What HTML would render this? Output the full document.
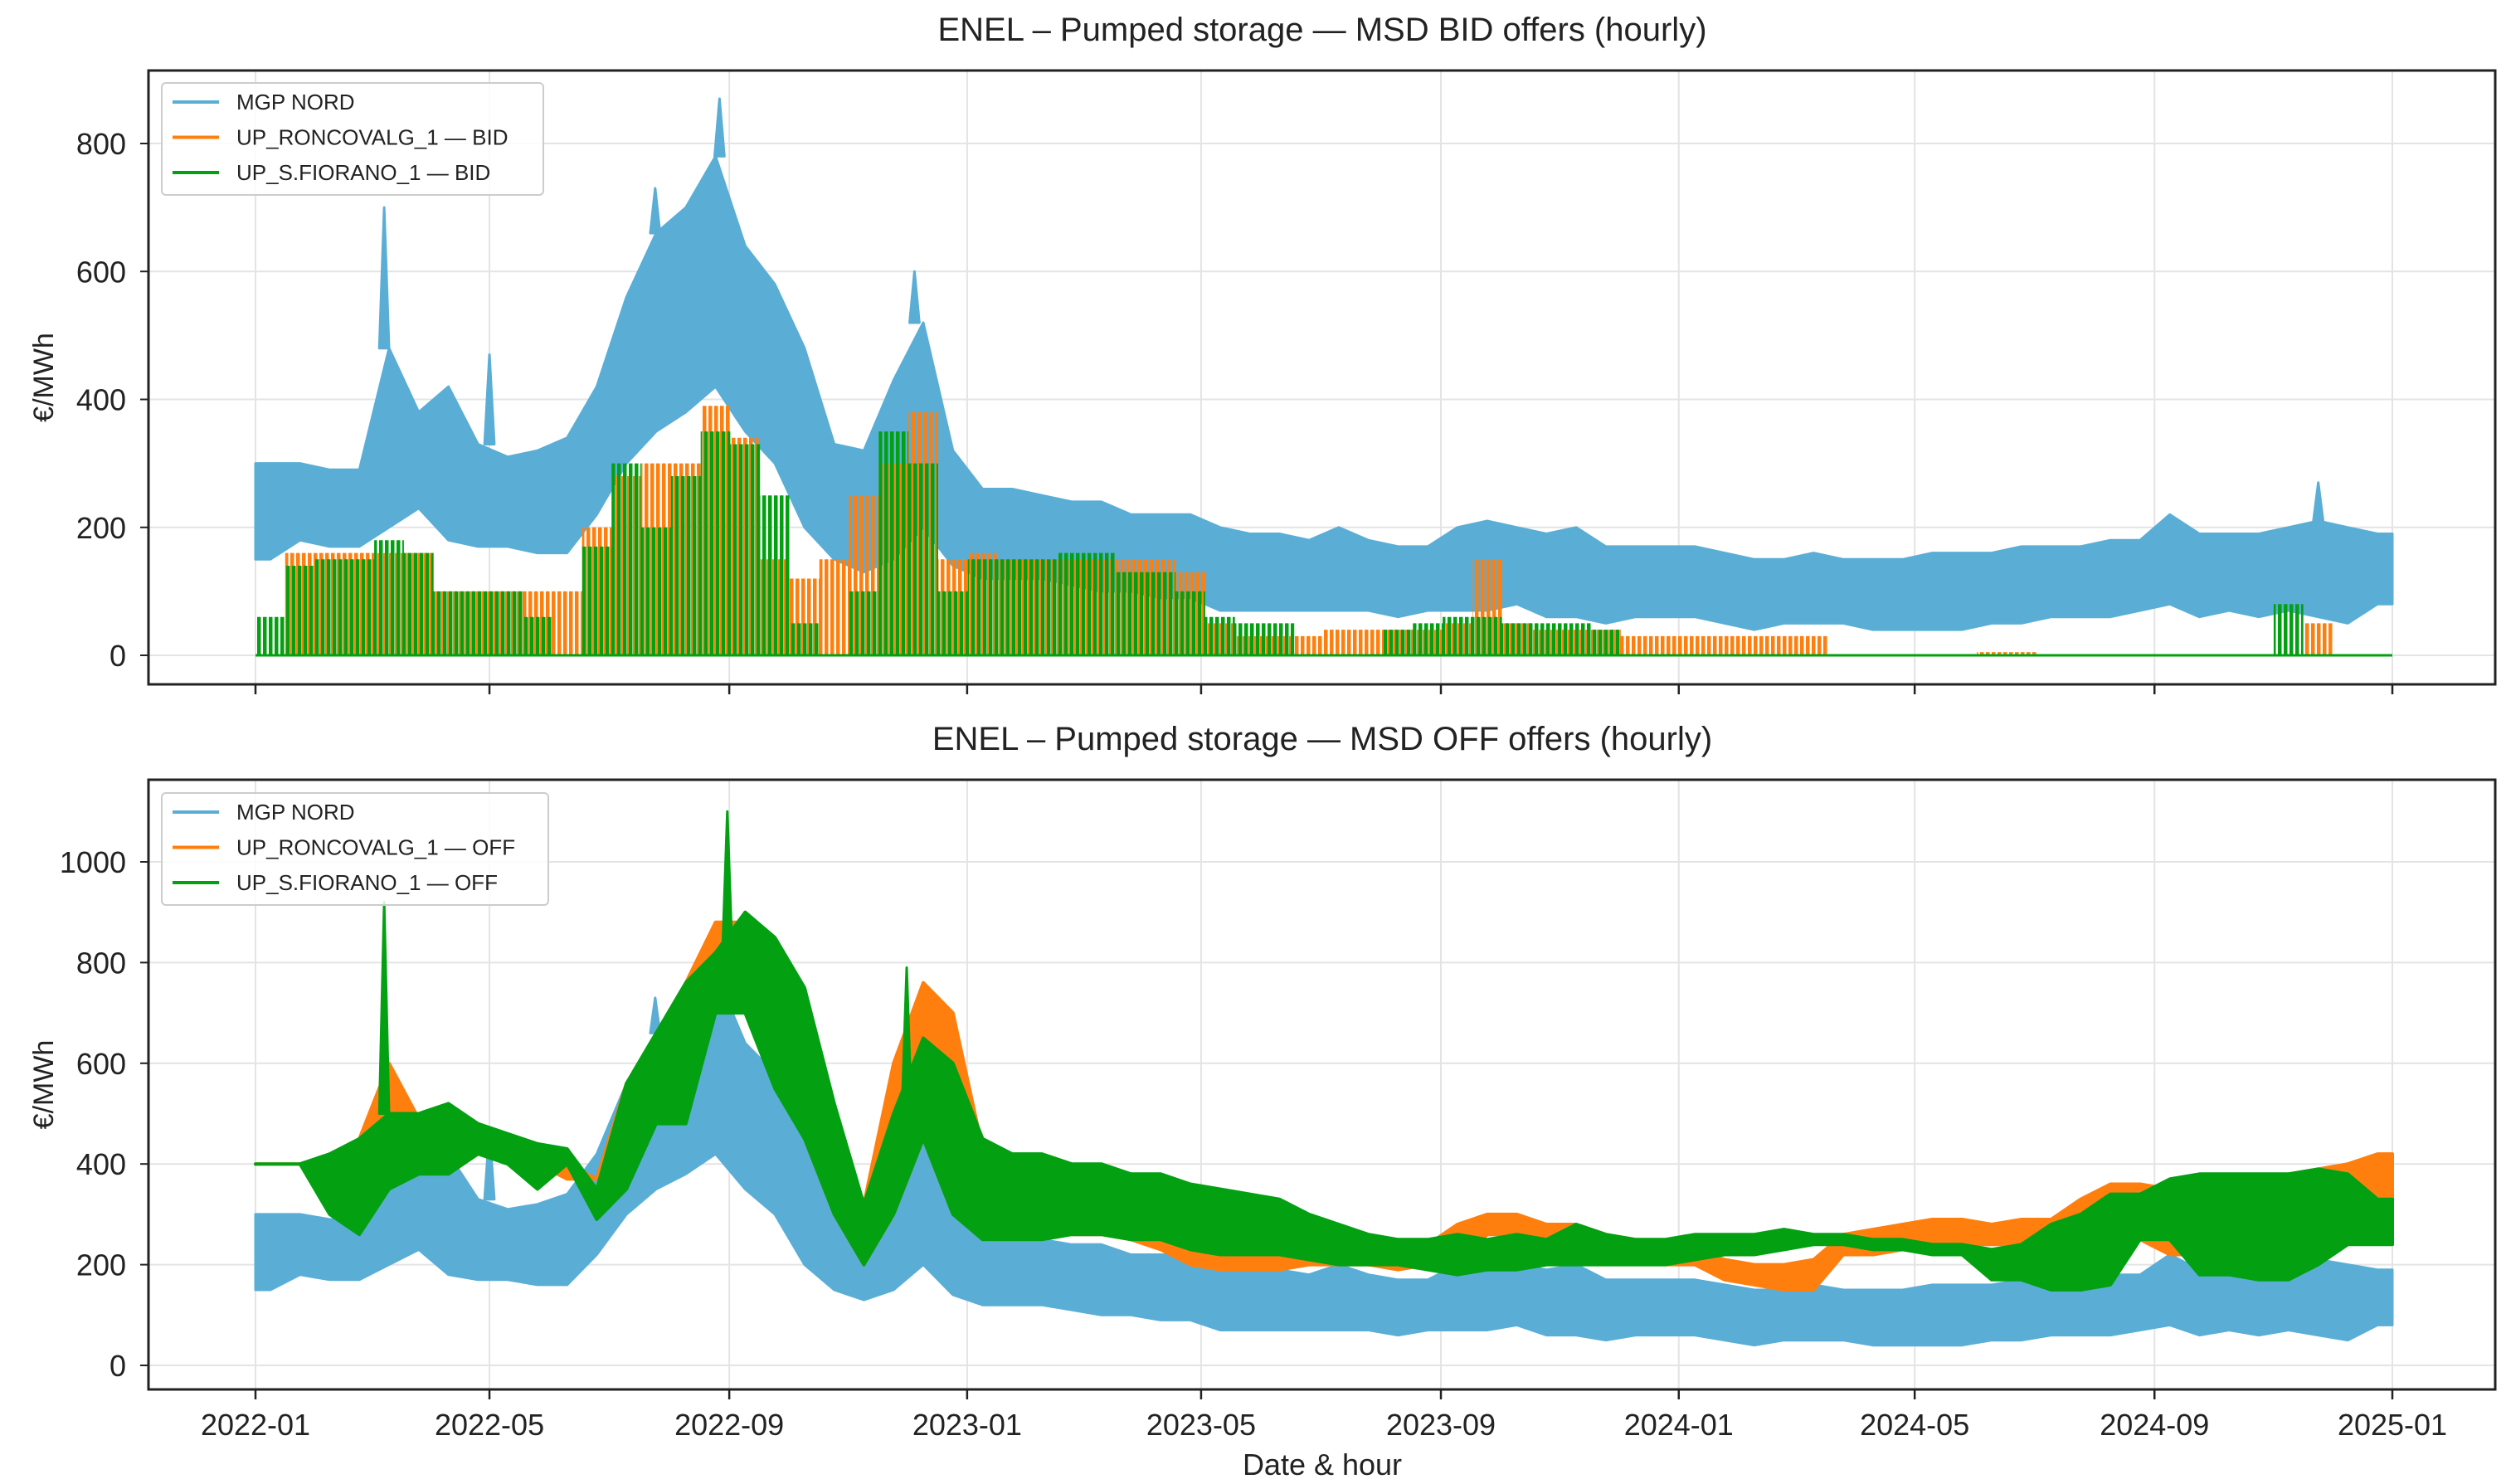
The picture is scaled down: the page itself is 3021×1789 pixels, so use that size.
<!DOCTYPE html>
<html><head><meta charset="utf-8"><style>
html,body{margin:0;padding:0;background:#fff;}
svg{display:block;font-family:"Liberation Sans","DejaVu Sans",sans-serif;}
</style></head><body>
<svg id="fig" width="3021" height="1789" viewBox="0 0 3021 1789" xmlns="http://www.w3.org/2000/svg">
<defs>
<pattern id="stripeO" width="7" height="10" patternUnits="userSpaceOnUse"><rect x="0" y="0" width="4.5" height="10" fill="#ff7f0e"/></pattern>
<pattern id="stripeG" width="7" height="10" patternUnits="userSpaceOnUse"><rect x="2" y="0" width="4.5" height="10" fill="#03a012"/></pattern>
</defs>
</svg>
<script>
// ---- data (half-month intervals, 2022-01 .. 2024-12) ----
const tickLabels = ["2022-01","2022-05","2022-09","2023-01","2023-05","2023-09","2024-01","2024-05","2024-09","2025-01"];
const tickDays = [0,120,243,365,485,608,730,851,974,1096];
const topYTicks = [0,200,400,600,800];
const botYTicks = [0,200,400,600,800,1000];
const mgpLo = [150,180,170,170,200,230,180,170,170,160,160,220,300,350,380,420,350,300,200,150,130,150,200,140,
120,120,120,110,100,100,90,90,70,70,70,70,70,70,60,70,70,70,80,60,60,50,60,60,
60,50,40,50,50,50,40,40,40,40,50,50,60,60,60,70,80,60,70,60,70,60,50,80];
const mgpHi = [300,300,290,290,480,380,420,330,310,320,340,420,560,660,700,780,640,580,480,330,320,430,520,320,
260,260,250,240,240,220,220,220,200,190,190,180,200,180,170,170,200,210,200,190,200,170,170,170,
170,160,150,150,160,150,150,150,160,160,160,170,170,170,180,180,220,190,190,190,200,210,200,190];
const mgpSpikeDays = [66,205,238,338,120,1058];
const mgpSpikeVals = [700,730,870,600,470,270];
const orBid = [0,160,160,160,160,160,100,100,100,100,100,200,280,300,300,390,340,150,120,150,250,300,380,150,
160,150,150,150,150,150,150,130,50,30,30,30,40,40,40,40,50,150,50,40,40,40,30,30,
30,30,30,30,30,0,0,0,0,0,5,5,0,0,0,0,0,0,0,0,0,50,0,0];
const grBid = [60,140,150,150,180,160,100,100,100,60,0,170,300,200,280,350,330,250,50,0,100,350,300,100,
150,150,150,160,160,130,130,100,60,50,50,0,0,0,40,50,60,60,50,50,50,40,0,0,
0,0,0,0,0,0,0,0,0,0,0,0,0,0,0,0,0,0,0,0,80,0,0,0];
const grOffLo = [400,400,300,260,350,380,380,420,400,350,400,290,350,480,480,700,700,550,450,300,200,300,450,300,
250,250,250,260,260,250,250,230,220,220,220,210,200,200,200,190,180,190,190,200,200,200,200,200,
210,220,220,230,240,240,230,230,220,220,170,170,150,150,160,250,250,180,180,170,170,200,240,240];
const grOffHi = [400,400,420,450,500,500,520,480,460,440,430,350,560,660,760,820,900,850,750,520,320,500,650,600,
450,420,420,400,400,380,380,360,350,340,330,300,280,260,250,250,260,250,260,250,280,260,250,250,
260,260,260,270,260,260,250,250,240,240,230,240,280,300,340,340,370,380,380,380,380,390,380,330];
const grOffSpikeDays = [66,242,334];
const grOffSpikeVals = [920,1100,790];
const orOffLo = [400,400,350,300,400,450,400,420,420,400,370,370,380,500,550,720,720,600,450,300,200,300,450,300,
280,280,260,260,260,250,230,200,190,190,190,200,200,200,190,200,200,260,260,250,230,220,210,200,
200,170,160,150,150,220,220,230,230,240,240,240,250,250,260,250,220,220,220,220,220,230,240,260];
const orOffHi = [400,400,400,450,600,490,480,480,450,440,400,370,560,650,760,880,880,800,700,500,320,600,760,700,
430,400,380,380,370,350,350,330,300,280,260,240,240,230,230,240,280,300,300,280,280,260,250,230,
230,210,200,200,210,260,270,280,290,290,280,290,290,330,360,360,350,350,360,370,380,390,400,420];

const NS="http://www.w3.org/2000/svg";
const svg=document.getElementById('fig');
const L=179,R=3008;
const x0=308,pxDay=(2884-308)/1096;
const N=orBid.length, dayPer=1096/N;
function xs(d){return x0+d*pxDay;}
function mk(tag,attrs,parent){const e=document.createElementNS(NS,tag);for(const k in attrs)e.setAttribute(k,attrs[k]);(parent||svg).appendChild(e);return e;}
const panels=[
 {top:85,bot:825,y0:790,ppu:(790-173)/800,ticks:topYTicks,title:"ENEL \u2013 Pumped storage \u2014 MSD BID offers (hourly)",ty:35,name:"bid",labels:false,suffix:"BID",leg:[195,100,460,135]},
 {top:940,bot:1675,y0:1646,ppu:(1646-1039)/1000,ticks:botYTicks,title:"ENEL \u2013 Pumped storage \u2014 MSD OFF offers (hourly)",ty:890,name:"off",labels:true,suffix:"OFF",leg:[195,956,466,135]}
];
const BLUE="#5aaed6",ORANGE="#ff7f0e",GREEN="#03a012";
panels.forEach(p=>{
 const g=mk('g',{});
 
 
 const ys=v=>p.y0-v*p.ppu;
 const t=mk('text',{x:1594,y:p.ty+14,'text-anchor':'middle','font-size':40,fill:'#222'},g);t.textContent=p.title;
 
 p.ticks.forEach(v=>{const l=mk('line',{x1:L,x2:R,y1:ys(v),y2:ys(v),stroke:'#e4e4e4','stroke-width':2},g);
  
  const tl=mk('text',{x:152,y:ys(v)+13,'text-anchor':'end','font-size':36,fill:'#222'},g);tl.textContent=v;
  
  mk('line',{x1:L-10,x2:L,y1:ys(v),y2:ys(v),stroke:'#222','stroke-width':2},g);});
 tickDays.forEach((d,i)=>{const X=xs(d);
  const l=mk('line',{x1:X,x2:X,y1:p.top,y2:p.bot,stroke:'#e4e4e4','stroke-width':2},g);
  
  mk('line',{x1:X,x2:X,y1:p.bot,y2:p.bot+12,stroke:'#222','stroke-width':2.5},g);
  if(p.labels){const tl=mk('text',{x:X,y:1730,'text-anchor':'middle','font-size':36,fill:'#222'},g);tl.textContent=tickLabels[i];
   }
 });
 const yl=mk('text',{transform:`translate(64,${(p.top+p.bot)/2}) rotate(-90)`,'text-anchor':'middle','font-size':34,fill:'#222'},g);yl.textContent="\u20ac/MWh";
 
 function band(lo,hi,color,name,sw){
  let up=[],dn=[];
  up.push([xs(0),ys(hi[0])]);dn.push([xs(0),ys(lo[0])]);
  for(let i=0;i<N;i++){const d=(i+0.5)*dayPer;up.push([xs(d),ys(hi[i])]);dn.push([xs(d),ys(lo[i])]);}
  up.push([xs(1096),ys(hi[N-1])]);dn.push([xs(1096),ys(lo[N-1])]);
  const pts=up.concat(dn.reverse()).map(q=>q[0].toFixed(1)+','+q[1].toFixed(1)).join(' ');
  const e=mk('polygon',{points:pts,fill:color,stroke:color,'stroke-width':sw,'stroke-linejoin':'round'},g);
  
 }
 function spikes(days,vals,base,color,name){
  days.forEach((d,i)=>{const b=base[Math.min(N-1,Math.floor(d/dayPer))];
   const e=mk('polygon',{points:`${xs(d-2.5)},${ys(b)} ${xs(d)},${ys(vals[i])} ${xs(d+2.5)},${ys(b)}`,fill:color,stroke:color,'stroke-width':3,'stroke-linejoin':'round'},g);
   });
 }
 function bars(vals,color,fill,name){
  let d='';
  for(let i=0;i<N;i++){if(vals[i]<=0)continue;const xa=xs(i*dayPer),xb=xs((i+1)*dayPer);d+=`M${xa.toFixed(1)},${ys(0)}V${ys(vals[i]).toFixed(1)}H${xb.toFixed(1)}V${ys(0)}Z`;}
  const e=mk('path',{d:d,fill:fill,stroke:'none'},g);
  
  const base=mk('line',{x1:xs(0),x2:xs(1096),y1:ys(0),y2:ys(0),stroke:color,'stroke-width':3},g);
  
 }
 band(mgpLo,mgpHi,BLUE,'mgp-nord-series',3);
 spikes(mgpSpikeDays,mgpSpikeVals,mgpHi,BLUE,'mgp-spike');
 if(p.name==='bid'){bars(orBid,ORANGE,'url(#stripeO)','roncovalg-bid-series');bars(grBid,GREEN,'url(#stripeG)','sfiorano-bid-series');}
 else{band(orOffLo,orOffHi,ORANGE,'roncovalg-off-series',4);band(grOffLo,grOffHi,GREEN,'sfiorano-off-series',4);
  spikes(grOffSpikeDays,grOffSpikeVals,grOffHi,GREEN,'sfiorano-off-spike');}
 const fr=mk('rect',{x:L,y:p.top,width:R-L,height:p.bot-p.top,fill:'none',stroke:'#222','stroke-width':3},g);
 
 const [lx,ly,lw,lh]=p.leg;
 const lg=mk('g',{},g);
 mk('rect',{x:lx,y:ly,width:lw,height:lh,fill:'#fff','fill-opacity':0.85,stroke:'#ccc','stroke-width':2,rx:5},lg);
 const ents=[["MGP NORD",BLUE],["UP_RONCOVALG_1 \u2014 "+p.suffix,ORANGE],["UP_S.FIORANO_1 \u2014 "+p.suffix,GREEN]];
 ents.forEach((en,i)=>{const yy=ly+23+i*42.5;
  const ln=mk('line',{x1:lx+13,x2:lx+69,y1:yy,y2:yy,stroke:en[1],'stroke-width':4},lg);
  
  const tx=mk('text',{x:lx+90,y:yy+9,'font-size':26,fill:'#222'},lg);tx.textContent=en[0];
  });
});
const xl=mk('text',{x:1594,y:1778,'text-anchor':'middle','font-size':36,fill:'#222'});xl.textContent="Date & hour";


</script>
</body></html>
